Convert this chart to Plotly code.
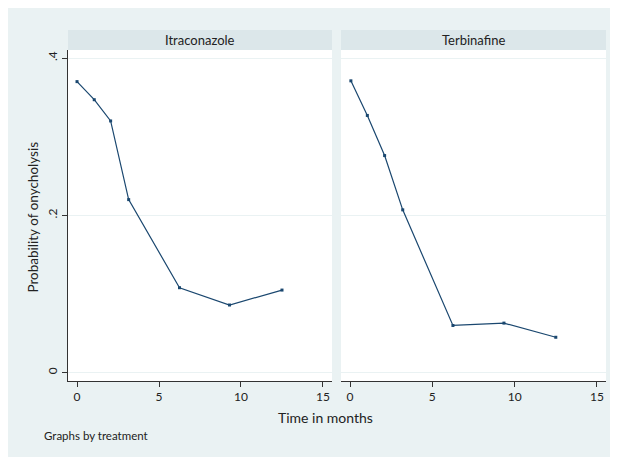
import plotly.graph_objects as go

# Data
panels = ["Itraconazole", "Terbinafine"]
itra_time = [0.0, 1.05, 2.05, 3.15, 6.25, 9.3, 12.5]
itra_prob = [0.370, 0.347, 0.320, 0.220, 0.108, 0.086, 0.105]
terb_time = [0.05, 1.05, 2.1, 3.2, 6.25, 9.35, 12.5]
terb_prob = [0.371, 0.327, 0.276, 0.207, 0.060, 0.063, 0.045]
y_ticks = [0, 0.2, 0.4]
y_ticklabels = ["0", ".2", ".4"]
x_ticks = [0, 5, 10, 15]

OFF = 8  # page body margin
W, H = 610, 449
BG = "#EAF2F3"
HEAD = "#DCE7EA"
LINE = "#1a476f"
FONT = "Lato"

def px(x):
    return (x - OFF) / W

def py(y):
    return 1 - (y - OFF) / H

fig = go.Figure()
fig.add_trace(go.Scatter(x=itra_time, y=itra_prob, mode="lines+markers",
                         line=dict(color=LINE, width=1.2),
                         marker=dict(symbol="square", size=3, color=LINE),
                         xaxis="x", yaxis="y", showlegend=False))
fig.add_trace(go.Scatter(x=terb_time, y=terb_prob, mode="lines+markers",
                         line=dict(color=LINE, width=1.2),
                         marker=dict(symbol="square", size=3, color=LINE),
                         xaxis="x2", yaxis="y2", showlegend=False))

xrange = [-0.55, 15.55]
yrange = [-0.0106, 0.4102]
ydom = [py(381), py(50)]

xcommon = dict(range=xrange, tickvals=x_ticks, ticks="outside", ticklen=5,
               tickcolor="#333", showline=True, linecolor="#333", linewidth=1,
               showgrid=False, zeroline=False,
               tickfont=dict(family=FONT, size=12, color="#222"))
fig.update_layout(
    width=W, height=H,
    margin=dict(l=0, r=0, t=0, b=0),
    paper_bgcolor=BG, plot_bgcolor="white",
    xaxis=dict(domain=[px(68), px(332)], anchor="y", **xcommon),
    xaxis2=dict(domain=[px(341), px(606)], anchor="y2", **xcommon),
    yaxis=dict(domain=ydom, range=yrange, tickvals=y_ticks, ticktext=y_ticklabels,
               tickangle=-90, ticks="outside", ticklen=5, tickcolor="#333",
               showline=True, linecolor="#333", linewidth=1,
               showgrid=True, gridcolor=BG, gridwidth=1, zeroline=False,
               tickfont=dict(family=FONT, size=12, color="#222"), anchor="x"),
    yaxis2=dict(domain=ydom, range=yrange, tickvals=y_ticks, showticklabels=False,
                ticks="", showline=False, showgrid=True, gridcolor=BG, gridwidth=1,
                zeroline=False, anchor="x2", matches="y"),
    font=dict(family=FONT, color="#222"),
)

shapes = [
    dict(type="rect", xref="paper", yref="paper", x0=px(68), x1=px(332), y0=py(50), y1=py(30),
         fillcolor=HEAD, line=dict(width=0), layer="below"),
    dict(type="rect", xref="paper", yref="paper", x0=px(341), x1=px(606), y0=py(50), y1=py(30),
         fillcolor=HEAD, line=dict(width=0), layer="below"),
]
fig.update_layout(shapes=shapes)

annotations = [
    dict(text=panels[0], x=px(200), y=py(40), xref="paper", yref="paper",
         showarrow=False, font=dict(family=FONT, size=13, color="#222"),
         xanchor="center", yanchor="middle"),
    dict(text=panels[1], x=px(473.5), y=py(40), xref="paper", yref="paper",
         showarrow=False, font=dict(family=FONT, size=13, color="#222"),
         xanchor="center", yanchor="middle"),
    dict(text="Probability of onycholysis", x=px(33), y=py(217.5), xref="paper", yref="paper",
         showarrow=False, textangle=-90, font=dict(family=FONT, size=13.5, color="#222"),
         xanchor="center", yanchor="middle"),
    dict(text="Time in months", x=px(325), y=py(417), xref="paper", yref="paper",
         showarrow=False, font=dict(family=FONT, size=14, color="#222"),
         xanchor="center", yanchor="middle"),
    dict(text="Graphs by treatment", x=px(42), y=py(435), xref="paper", yref="paper",
         showarrow=False, font=dict(family=FONT, size=11.5, color="#222"),
         xanchor="left", yanchor="middle"),
]
fig.update_layout(annotations=annotations)

fig.write_html("out.html")
